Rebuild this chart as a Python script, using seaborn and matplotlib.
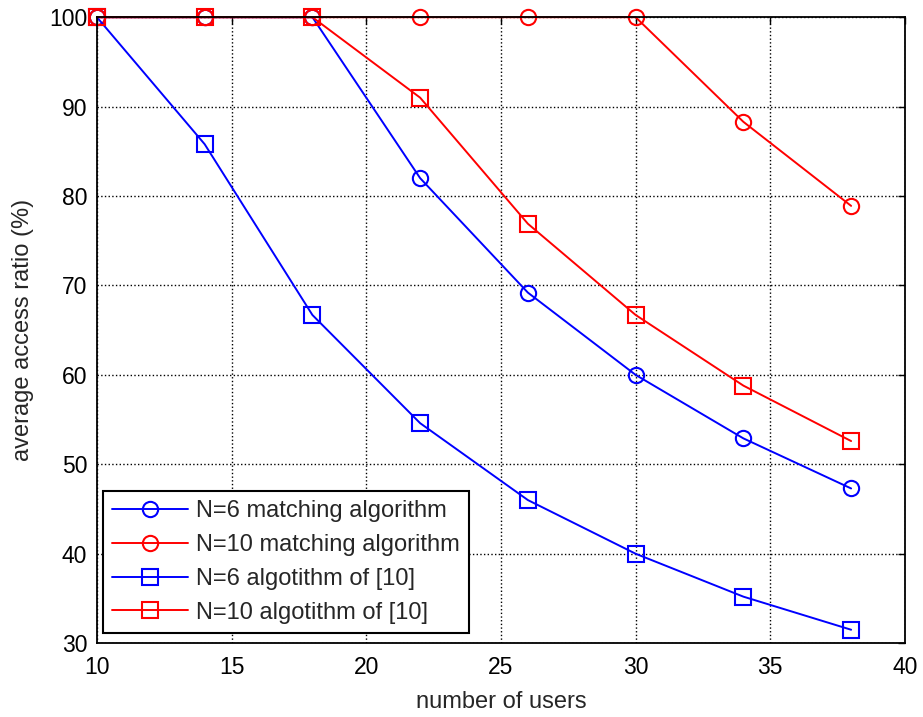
import numpy as np
import pandas as pd
import matplotlib.pyplot as plt
import seaborn as sns

# Dados
usuarios = [10, 14, 18, 22, 26, 30, 34, 38]
n6_matching = [100, 100, 100, 82.0, 69.2, 60.0, 52.9, 47.3]
n10_matching = [100, 100, 100, 100, 100, 100, 88.3, 78.9]
n6_ref10 = [100, 85.8, 66.7, 54.6, 46.0, 40.0, 35.2, 31.5]
n10_ref10 = [100, 100, 100, 91.0, 76.9, 66.7, 58.8, 52.6]

series = [
    ("N=6 matching algorithm", n6_matching, "#0000ff", "o"),
    ("N=10 matching algorithm", n10_matching, "#ff0000", "o"),
    ("N=6 algotithm of [10]", n6_ref10, "#0000ff", "s"),
    ("N=10 algotithm of [10]", n10_ref10, "#ff0000", "s"),
]

sns.set_style("white")
plt.rcParams.update({
    "font.family": ["Liberation Sans", "DejaVu Sans"],
    "font.size": 16.5,
    "xtick.direction": "in",
    "ytick.direction": "in",
    "xtick.top": True,
    "ytick.right": True,
})

fig = plt.figure(figsize=(9.23, 7.17), dpi=100)
ax = fig.add_axes([0.105, 0.103, 0.8755, 0.873])

for nome, valores, cor, marcador in series:
    sns.lineplot(x=usuarios, y=valores, ax=ax, color=cor, marker=marcador,
                 markersize=11, markerfacecolor="none", markeredgecolor=cor,
                 markeredgewidth=1.5, linewidth=1.4, label=nome, clip_on=False)

ax.set_xlim(10, 40)
ax.set_ylim(30, 100)
ax.set_xticks(np.arange(10, 41, 5))
ax.set_yticks(np.arange(30, 101, 10))
ax.grid(True, color="black", linestyle=":", linewidth=1)
for s in ax.spines.values():
    s.set_color("black")
    s.set_linewidth(1.3)
ax.tick_params(colors="black", labelsize=16.5, length=5, width=1)
ax.tick_params(axis="x", pad=9)
ax.tick_params(axis="y", pad=7)

ax.set_xlabel("number of users", fontsize=17, labelpad=9)
ax.set_ylabel("average access ratio (%)", fontsize=17, labelpad=11)

leg = ax.legend(loc="lower left", bbox_to_anchor=(0.0074, 0.016), fontsize=17,
                fancybox=False, framealpha=1, edgecolor="black",
                handlelength=3.2, handletextpad=0.34, borderpad=0.4,
                labelspacing=0.5, borderaxespad=0)
leg.get_frame().set_linewidth(1.5)

fig.savefig("out.png", dpi=100)
